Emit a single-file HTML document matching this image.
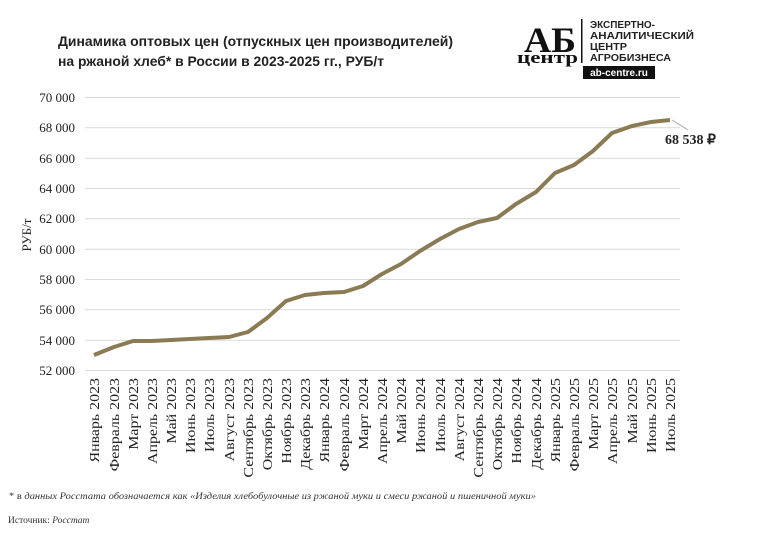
<!DOCTYPE html>
<html><head><meta charset="utf-8"><style>
body{margin:0;background:#fff;}
svg{display:block;}
</style></head><body>
<svg width="757" height="533" viewBox="0 0 757 533" xmlns="http://www.w3.org/2000/svg">
<rect width="757" height="533" fill="#fff"/>
<g font-family="'Liberation Sans',sans-serif" font-weight="bold" font-size="14" fill="#222">
<text x="58" y="46" textLength="395" lengthAdjust="spacingAndGlyphs">Динамика оптовых цен (отпускных цен производителей)</text>
<text x="58" y="66" textLength="326" lengthAdjust="spacingAndGlyphs">на ржаной хлеб* в России в 2023-2025 гг., РУБ/т</text>
</g>
<g font-family="'Liberation Serif',serif" font-weight="bold" fill="#111">
<text x="524" y="52" font-size="36" textLength="52" lengthAdjust="spacingAndGlyphs">АБ</text>
<text x="517" y="63" font-size="17" textLength="61" lengthAdjust="spacingAndGlyphs">центр</text>
</g>
<rect x="581" y="19" width="1.5" height="44" fill="#111"/>
<g font-family="'Liberation Sans',sans-serif" font-weight="bold" font-size="10" fill="#222">
<text x="590" y="28" textLength="65" lengthAdjust="spacingAndGlyphs">ЭКСПЕРТНО-</text>
<text x="590" y="39" textLength="104" lengthAdjust="spacingAndGlyphs">АНАЛИТИЧЕСКИЙ</text>
<text x="590" y="50" textLength="37" lengthAdjust="spacingAndGlyphs">ЦЕНТР</text>
<text x="590" y="61" textLength="81" lengthAdjust="spacingAndGlyphs">АГРОБИЗНЕСА</text>
</g>
<rect x="583" y="66" width="72" height="13" fill="#111"/>
<text x="619" y="76" font-family="'Liberation Sans',sans-serif" font-weight="bold" font-size="10" fill="#fff" text-anchor="middle">ab-centre.ru</text>
<g stroke="#d9d9d9" stroke-width="1">
<line x1="85" x2="680" y1="97.5" y2="97.5"/>
<line x1="85" x2="680" y1="127.8" y2="127.8"/>
<line x1="85" x2="680" y1="158.2" y2="158.2"/>
<line x1="85" x2="680" y1="188.5" y2="188.5"/>
<line x1="85" x2="680" y1="218.8" y2="218.8"/>
<line x1="85" x2="680" y1="249.2" y2="249.2"/>
<line x1="85" x2="680" y1="279.5" y2="279.5"/>
<line x1="85" x2="680" y1="309.8" y2="309.8"/>
<line x1="85" x2="680" y1="340.2" y2="340.2"/>
<line x1="85" x2="680" y1="370.5" y2="370.5"/>
</g>
<g font-family="'Liberation Serif',serif" font-size="13" fill="#222" text-anchor="end">
<text x="75" y="102">70 000</text>
<text x="75" y="132">68 000</text>
<text x="75" y="163">66 000</text>
<text x="75" y="193">64 000</text>
<text x="75" y="223">62 000</text>
<text x="75" y="254">60 000</text>
<text x="75" y="284">58 000</text>
<text x="75" y="314">56 000</text>
<text x="75" y="345">54 000</text>
<text x="75" y="375">52 000</text>
</g>
<text transform="translate(31,235) rotate(-90)" font-family="'Liberation Serif',serif" font-size="13" fill="#222" text-anchor="middle">РУБ/т</text>
<polyline fill="none" stroke="#8b7b55" stroke-width="4" stroke-linejoin="round" points="94,355 114,347 133,341 152,341 171,340 190,339 209,338 229,337 248,332 267,318 286,301 305,295 324,293 344,292 363,286 382,274 401,264 420,251 440,239 459,229 478,222 497,218 516,204 536,192 555,173 574,165 593,151 612,133 632,126 651,122 670,120"/>
<line x1="672" y1="120" x2="688" y2="130" stroke="#aaa" stroke-width="1"/>
<text x="665" y="144" font-family="'Liberation Serif',serif" font-weight="bold" font-size="14" fill="#222">68 538 ₽</text>
<g font-family="'Liberation Serif',serif" font-size="13.5" fill="#222" text-anchor="end">
<text transform="translate(99,378) rotate(-90) scale(1.18,1)">Январь 2023</text>
<text transform="translate(119,378) rotate(-90) scale(1.18,1)">Февраль 2023</text>
<text transform="translate(138,378) rotate(-90) scale(1.18,1)">Март 2023</text>
<text transform="translate(157,378) rotate(-90) scale(1.18,1)">Апрель 2023</text>
<text transform="translate(176,378) rotate(-90) scale(1.18,1)">Май 2023</text>
<text transform="translate(195,378) rotate(-90) scale(1.18,1)">Июнь 2023</text>
<text transform="translate(214,378) rotate(-90) scale(1.18,1)">Июль 2023</text>
<text transform="translate(234,378) rotate(-90) scale(1.18,1)">Август 2023</text>
<text transform="translate(253,378) rotate(-90) scale(1.18,1)">Сентябрь 2023</text>
<text transform="translate(272,378) rotate(-90) scale(1.18,1)">Октябрь 2023</text>
<text transform="translate(291,378) rotate(-90) scale(1.18,1)">Ноябрь 2023</text>
<text transform="translate(310,378) rotate(-90) scale(1.18,1)">Декабрь 2023</text>
<text transform="translate(329,378) rotate(-90) scale(1.18,1)">Январь 2024</text>
<text transform="translate(349,378) rotate(-90) scale(1.18,1)">Февраль 2024</text>
<text transform="translate(368,378) rotate(-90) scale(1.18,1)">Март 2024</text>
<text transform="translate(387,378) rotate(-90) scale(1.18,1)">Апрель 2024</text>
<text transform="translate(406,378) rotate(-90) scale(1.18,1)">Май 2024</text>
<text transform="translate(425,378) rotate(-90) scale(1.18,1)">Июнь 2024</text>
<text transform="translate(445,378) rotate(-90) scale(1.18,1)">Июль 2024</text>
<text transform="translate(464,378) rotate(-90) scale(1.18,1)">Август 2024</text>
<text transform="translate(483,378) rotate(-90) scale(1.18,1)">Сентябрь 2024</text>
<text transform="translate(502,378) rotate(-90) scale(1.18,1)">Октябрь 2024</text>
<text transform="translate(521,378) rotate(-90) scale(1.18,1)">Ноябрь 2024</text>
<text transform="translate(541,378) rotate(-90) scale(1.18,1)">Декабрь 2024</text>
<text transform="translate(560,378) rotate(-90) scale(1.18,1)">Январь 2025</text>
<text transform="translate(579,378) rotate(-90) scale(1.18,1)">Февраль 2025</text>
<text transform="translate(598,378) rotate(-90) scale(1.18,1)">Март 2025</text>
<text transform="translate(617,378) rotate(-90) scale(1.18,1)">Апрель 2025</text>
<text transform="translate(637,378) rotate(-90) scale(1.18,1)">Май 2025</text>
<text transform="translate(656,378) rotate(-90) scale(1.18,1)">Июнь 2025</text>
<text transform="translate(675,378) rotate(-90) scale(1.18,1)">Июль 2025</text>
</g>
<text x="9" y="499" font-family="'Liberation Serif',serif" font-size="9.5" fill="#333" textLength="527" lengthAdjust="spacingAndGlyphs">* в <tspan font-style="italic">данных Росстата обозначается как «Изделия хлебобулочные из ржаной муки и смеси ржаной и пшеничной муки»</tspan></text>
<text x="8" y="523" font-family="'Liberation Serif',serif" font-size="9.5" fill="#333">Источник: <tspan font-style="italic">Росстат</tspan></text>
</svg>
</body></html>
